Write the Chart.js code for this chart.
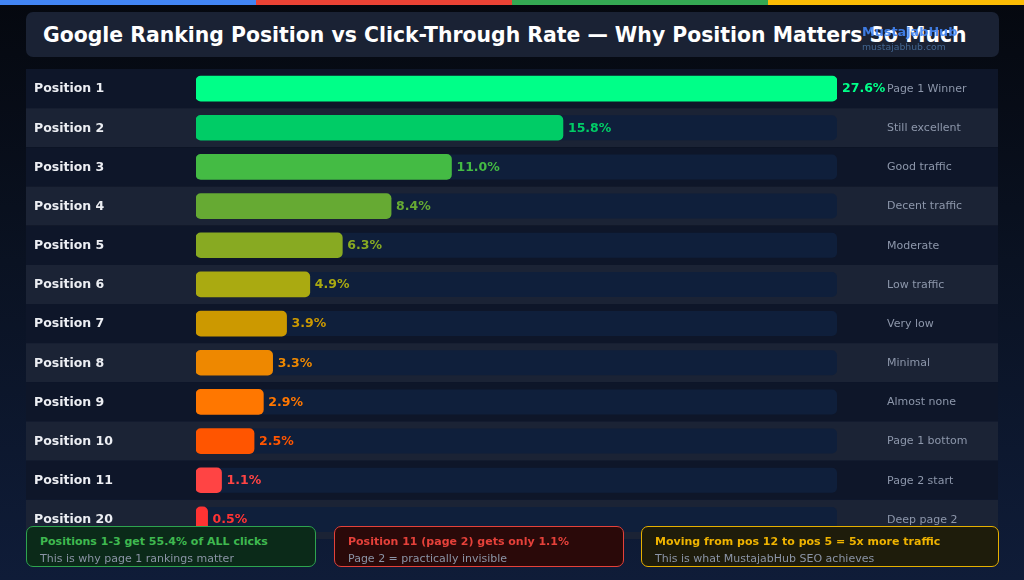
<!DOCTYPE html>
<html>
<head>
<meta charset="utf-8">
<script src="https://cdn.jsdelivr.net/npm/chart.js@4"></script>
<style>
  html, body { margin: 0; padding: 0; }
  body {
    width: 1024px; height: 580px; overflow: hidden; position: relative;
    background: linear-gradient(180deg, #05080f 0%, #0a1222 45%, #0f1c38 100%);
    font-family: "DejaVu Sans", sans-serif;
  }
  #stripe { position: absolute; left: 0; top: 0; width: 1024px; height: 5px; display: flex; }
  #stripe div { flex: 1; }
  #card {
    position: absolute; left: 26px; top: 12px; width: 973px; height: 45px;
    background: #1a2234; border-radius: 7px;
  }
  #title {
    position: absolute; left: 43px; top: 34.5px; transform: translateY(-50%);
    color: #ffffff; font-weight: bold; font-size: 20.4px; white-space: nowrap;
  }
  #wm1 {
    position: absolute; left: 862px; top: 31px; transform: translateY(-50%);
    color: rgba(66,133,244,0.9); font-weight: bold; font-size: 12.8px; white-space: nowrap;
  }
  #wm2 {
    position: absolute; left: 862px; top: 46px; transform: translateY(-50%);
    color: #42658f; font-size: 9.3px; white-space: nowrap;
  }
  #chart { position: absolute; left: 0; top: 0; }
  .box {
    position: absolute; top: 526px; height: 41px; box-sizing: border-box;
    border-radius: 7px; border: 1.5px solid;
  }
  .box .t { position: absolute; left: 13px; top: 14px; transform: translateY(-50%); font-weight: bold; font-size: 11px; white-space: nowrap; }
  .box .s { position: absolute; left: 13px; top: 30.5px; transform: translateY(-50%); font-size: 11px; color: #8b94a6; white-space: nowrap; }
</style>
</head>
<body>
<div id="stripe"><div style="background:#4285f4"></div><div style="background:#ea4335"></div><div style="background:#34a853"></div><div style="background:#fbbc05"></div></div>
<div id="card"></div>
<div id="title">Google Ranking Position vs Click-Through Rate — Why Position Matters So Much</div>
<canvas id="chart" width="1024" height="580"></canvas>
<div id="wm1">MustajabHub</div>
<div id="wm2">mustajabhub.com</div>

<div class="box" style="left:26px;width:290px;background:#0b2a19;border-color:#2ea44f;">
  <div class="t" style="color:#3fb950">Positions 1-3 get 55.4% of ALL clicks</div>
  <div class="s">This is why page 1 rankings matter</div>
</div>
<div class="box" style="left:334px;width:290px;background:#2a0909;border-color:#e5413a;">
  <div class="t" style="color:#e5413a">Position 11 (page 2) gets only 1.1%</div>
  <div class="s">Page 2 = practically invisible</div>
</div>
<div class="box" style="left:641px;width:358px;background:#1e1c0b;border-color:#e6b000;">
  <div class="t" style="color:#f0b400">Moving from pos 12 to pos 5 = 5x more traffic</div>
  <div class="s">This is what MustajabHub SEO achieves</div>
</div>

<script>
const positions = ["Position 1","Position 2","Position 3","Position 4","Position 5","Position 6","Position 7","Position 8","Position 9","Position 10","Position 11","Position 20"];
const ctrValues = [27.6, 15.8, 11.0, 8.4, 6.3, 4.9, 3.9, 3.3, 2.9, 2.5, 1.1, 0.5];
const descriptions = ["Page 1 Winner","Still excellent","Good traffic","Decent traffic","Moderate","Low traffic","Very low","Minimal","Almost none","Page 1 bottom","Page 2 start","Deep page 2"];
const barColors = ["#00ff88","#00cc66","#44bb44","#66aa33","#88aa22","#aaaa11","#cc9900","#ee8800","#ff7700","#ff5500","#ff4444","#ff3333"];

const rowBands = {
  id: 'rowBands',
  beforeDatasetsDraw(chart) {
    const {ctx, chartArea, scales: {x, y}} = chart;
    const n = positions.length;
    const band = (chartArea.bottom - chartArea.top) / n;
    ctx.save();
    for (let i = 0; i < n; i++) {
      const cy = y.getPixelForValue(i);
      ctx.fillStyle = (i % 2 === 0) ? '#0e1629' : '#1b2335';
      ctx.fillRect(26, cy - band / 2, 998 - 26, band);
      const x0 = x.getPixelForValue(0), x1 = x.getPixelForValue(x.max);
      ctx.fillStyle = '#0f1f3b';
      ctx.beginPath();
      ctx.roundRect(x0, cy - 12.5, x1 - x0, 25, 5);
      ctx.fill();
    }
    ctx.restore();
  },
  afterDatasetsDraw(chart) {
    const {ctx, scales: {x, y}} = chart;
    ctx.save();
    ctx.textBaseline = 'middle';
    positions.forEach((p, i) => {
      const cy = y.getPixelForValue(i) + 0.5;
      ctx.font = 'bold 12.5px "DejaVu Sans"';
      ctx.fillStyle = '#eceef3';
      ctx.textAlign = 'left';
      ctx.fillText(p, 34, cy);
      ctx.fillStyle = barColors[i];
      ctx.fillText(ctrValues[i].toFixed(1) + '%', x.getPixelForValue(ctrValues[i]) + 5, cy);
      ctx.font = '11px "DejaVu Sans"';
      ctx.fillStyle = '#8d97ab';
      ctx.fillText(descriptions[i], 887, cy);
    });
    ctx.restore();
  }
};

new Chart(document.getElementById('chart'), {
  type: 'bar',
  data: {
    labels: positions,
    datasets: [{
      data: ctrValues,
      backgroundColor: barColors,
      borderRadius: 5,
      borderSkipped: false,
      barThickness: 25
    }]
  },
  options: {
    indexAxis: 'y',
    responsive: false,
    animation: false,
    layout: { padding: { left: 196, right: 187, top: 69, bottom: 41 } },
    scales: {
      x: { display: false, min: 0, max: Math.max(...ctrValues) },
      y: { display: false }
    },
    plugins: { legend: { display: false }, tooltip: { enabled: false } }
  },
  plugins: [rowBands]
});
</script>
</body>
</html>
